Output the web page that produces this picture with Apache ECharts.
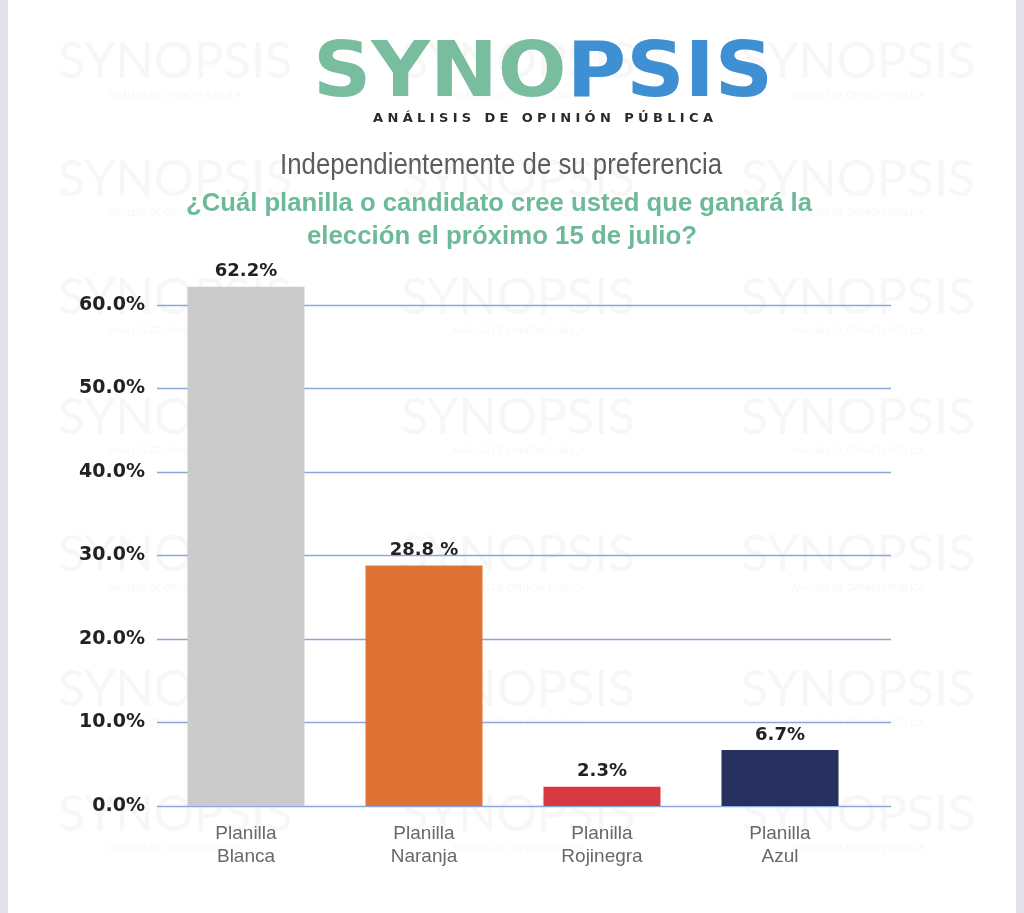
<!DOCTYPE html>
<html><head><meta charset="utf-8">
<script src="https://cdn.jsdelivr.net/npm/echarts@6/dist/echarts.min.js"></script>
<style>html,body{margin:0;padding:0;background:#fff}#c{width:1024px;height:913px}</style>
</head><body><div id="c"></div>
<script>
// ---- data ----
const categories = ['Planilla\nBlanca', 'Planilla\nNaranja', 'Planilla\nRojinegra', 'Planilla\nAzul'];
const values = [62.2, 28.8, 2.3, 6.7];
const valueLabels = ['62.2%', '28.8 %', '2.3%', '6.7%'];
const barColors = ['#cbcbcb', '#df7335', '#d6393f', '#28305f'];
const yTicks = [0, 10, 20, 30, 40, 50, 60];
const logoLeft = 'SYNO';
const logoRight = 'PSIS';
const logoSub = 'ANÁLISIS DE OPINIÓN PÚBLICA';
const titleLine1 = 'Independientemente de su preferencia';
const titleLine2 = '¿Cuál planilla o candidato cree usted que ganará la';
const titleLine3 = 'elección el próximo 15 de julio?';

// ---- helpers ----
const ctx = document.createElement('canvas').getContext('2d');
function measure(t, font) { ctx.font = font; return ctx.measureText(t).width; }
function fam(w, s, f) { return w + ' ' + s + 'px "' + f + '"'; }

const graphics = [];
// side strips
graphics.push({type: 'rect', shape: {x: 0, y: 0, width: 8, height: 913}, style: {fill: '#e2e2e8'}, z: -20});
graphics.push({type: 'rect', shape: {x: 1016, y: 0, width: 8, height: 913}, style: {fill: '#e2e2e8'}, z: -20});

// faint watermark tiles
const wmRows = [62, 180, 298, 418, 555, 690, 815];
const wmCols = [175, 518, 858];
wmRows.forEach(function (ry) {
  wmCols.forEach(function (cx) {
    graphics.push({type: 'text', x: cx, y: ry, z: -10, silent: true,
      style: {text: 'SYNOPSIS', fill: '#f7f7f8', font: fam('normal', 50, 'Lato'), align: 'center', verticalAlign: 'middle', textAlign: 'center', textVerticalAlign: 'middle'}});
    graphics.push({type: 'text', x: cx, y: ry + 33, z: -10, silent: true,
      style: {text: logoSub, fill: '#f7f7f8', font: fam('normal', 9, 'Lato'), align: 'center', verticalAlign: 'middle', textAlign: 'center', textVerticalAlign: 'middle'}});
  });
});

function fitted(text, font, cx, cy, targetW, fill) {
  const w = measure(text, font);
  const s = targetW / w;
  graphics.push({type: 'text', x: cx, y: cy, scaleX: s, z: 5,
    style: {text: text, font: font, fill: fill, align: 'center', verticalAlign: 'middle', textAlign: 'center', textVerticalAlign: 'middle'}});
}

// logo
(function () {
  const font = fam('bold', 76, 'DejaVu Sans');
  const full = measure(logoLeft + logoRight, font);
  const s = 460 / full;
  const x0 = 313;
  const wl = measure(logoLeft, font) * s;
  graphics.push({type: 'text', x: x0, y: 76, scaleX: s, z: 5,
    style: {text: logoLeft, font: font, fill: '#79bd9f', align: 'left', verticalAlign: 'middle', textAlign: 'left', textVerticalAlign: 'middle'}});
  graphics.push({type: 'text', x: x0 + wl, y: 76, scaleX: s, z: 5,
    style: {text: logoRight, font: font, fill: '#3f8fd3', align: 'left', verticalAlign: 'middle', textAlign: 'left', textVerticalAlign: 'middle'}});
  // spaced subtitle
  const sf = fam('bold', 13, 'DejaVu Sans');
  const chars = logoSub.split('');
  let sum = 0; chars.forEach(function (c) { sum += measure(c, sf); });
  const gap = (340 - sum) / (chars.length - 1);
  let x = 373;
  chars.forEach(function (c) {
    graphics.push({type: 'text', x: x, y: 119, z: 5,
      style: {text: c, font: sf, fill: '#2a2a2a', align: 'left', verticalAlign: 'middle', textAlign: 'left', textVerticalAlign: 'middle'}});
    x += measure(c, sf) + gap;
  });
})();

// titles
fitted(titleLine1, fam('normal', 30, 'Liberation Sans'), 501, 166, 442, '#5c5c5c');
fitted(titleLine2, fam('bold', 26, 'Liberation Sans'), 499, 204, 626, '#6cba98');
fitted(titleLine3, fam('bold', 26, 'Liberation Sans'), 502, 237, 390, '#6cba98');

const yMin = yTicks[0], yMax = yTicks[yTicks.length - 1];
const chart = echarts.init(document.getElementById('c'), null, {renderer: 'canvas'});
chart.setOption({
  backgroundColor: '#ffffff',
  animation: false,
  graphic: {elements: graphics},
  grid: [
    {left: 157, right: 133, top: 305, bottom: 107, containLabel: false},
    {left: 157, right: 155, top: 305, bottom: 107, containLabel: false}
  ],
  xAxis: [
    {gridIndex: 0, type: 'category', data: categories, show: false},
    {
      gridIndex: 1, type: 'category', data: categories,
      axisLine: {show: false},
      axisTick: {show: false},
      axisLabel: {color: '#686868', fontFamily: 'Liberation Sans', fontSize: 19, lineHeight: 23, margin: 16}
    }
  ],
  yAxis: [
    {
      gridIndex: 0, type: 'value', min: yMin, max: yMax, interval: 10,
      axisLine: {show: false},
      axisTick: {show: false},
      axisLabel: {color: '#222222', fontFamily: 'DejaVu Sans', fontWeight: 'bold', fontSize: 19, margin: 12,
        formatter: function (v) { return v.toFixed(1) + '%'; }},
      splitLine: {lineStyle: {color: '#8aa8dc', width: 1.3}}
    },
    {gridIndex: 1, type: 'value', min: yMin, max: yMax, interval: 10, show: false, splitLine: {show: false}}
  ],
  series: [{
    type: 'bar',
    xAxisIndex: 1, yAxisIndex: 1,
    data: values.map(function (v, i) { return {value: v, itemStyle: {color: barColors[i]}}; }),
    barWidth: 117,
    clip: false,
    z: 3,
    label: {
      show: true, position: 'top', distance: 6,
      color: '#222222', fontFamily: 'DejaVu Sans', fontWeight: 'bold', fontSize: 18,
      formatter: function (p) { return valueLabels[p.dataIndex]; }
    }
  }]
});
</script>
</body></html>
